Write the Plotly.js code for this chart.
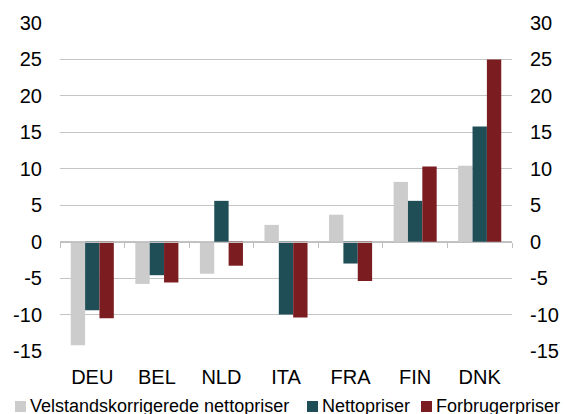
<!DOCTYPE html>
<html>
<head>
<meta charset="utf-8">
<script src="https://cdn.plot.ly/plotly-3.0.1.min.js"></script>
<style>html,body{margin:0;padding:0;background:#fff;}#chart{width:564px;height:414px;}</style>
</head>
<body>
<div id="chart"></div>
<script>
var categories = ["DEU", "BEL", "NLD", "ITA", "FRA", "FIN", "DNK"];
var seriesNames = ["Velstandskorrigerede nettopriser", "Nettopriser", "Forbrugerpriser"];
var velstandskorrigerede = [-14.2, -5.8, -4.4, 2.3, 3.7, 8.2, 10.4];
var nettopriser = [-9.4, -4.6, 5.6, -10.0, -3.0, 5.6, 15.8];
var forbrugerpriser = [-10.5, -5.6, -3.3, -10.4, -5.4, 10.3, 25.0];
var yTickVals = [-15, -10, -5, 0, 5, 10, 15, 20, 25, 30];
var yTickText = ["-15", "-10", "-5", "0", "5", "10", "15", "20", "25", "30"];

var colors = ["#cccccc", "#1f4e56", "#7b1d20"];
var font = "Liberation Sans, Arial, sans-serif";
var W = 564, H = 414;
var M = {l: 60, r: 52, t: 23, b: 63};
var pw = W - M.l - M.r, ph = H - M.t - M.b;
function px2x(px) { return (px - M.l) / pw; }
function px2y(py) { return (H - M.b - py) / ph; }

var values = [velstandskorrigerede, nettopriser, forbrugerpriser];
var traces = values.map(function (v, i) {
  return {
    type: "bar", x: categories, y: v, name: seriesNames[i],
    marker: {color: colors[i], line: {width: 0}},
    showlegend: false, hoverinfo: "x+y+name"
  };
});
traces.push({type: "scatter", x: [], y: [], yaxis: "y2", showlegend: false, hoverinfo: "skip"});
traces.push({type: "scatter", x: [], y: [], xaxis: "x2", showlegend: false, hoverinfo: "skip"});

var boundaries = [];
for (var k = 0; k <= categories.length; k++) boundaries.push(k - 0.5);

var legendSquareX = [15, 307, 421];
var legendTextX = [28, 320, 434];
var shapes = [], annotations = [];
for (var i = 0; i < seriesNames.length; i++) {
  shapes.push({
    type: "rect", xref: "paper", yref: "paper",
    xsizemode: "pixel", ysizemode: "pixel",
    xanchor: px2x(legendSquareX[i]), yanchor: px2y(412),
    x0: 0, x1: 11, y0: 0, y1: 11,
    fillcolor: colors[i], line: {width: 0}
  });
  annotations.push({
    xref: "paper", yref: "paper", x: px2x(legendTextX[i]), y: px2y(406),
    xanchor: "left", yanchor: "middle", showarrow: false,
    text: seriesNames[i], font: {family: font, size: 18, color: "#000"}
  });
}

var yAxisCommon = {
  range: [-15, 30], tickmode: "array", tickvals: yTickVals, ticktext: yTickText,
  zeroline: false, ticks: "", tickfont: {family: font, size: 20, color: "#000"},
  fixedrange: true
};

var layout = {
  width: W, height: H, margin: M,
  paper_bgcolor: "#fff", plot_bgcolor: "#fff",
  font: {family: font, size: 20, color: "#000"},
  barmode: "group", bargap: 0.333, bargroupgap: 0,
  showlegend: false,
  xaxis: {
    type: "category", categoryorder: "array", categoryarray: categories,
    showgrid: false, zeroline: false, showline: false, ticks: "",
    tickfont: {family: font, size: 20, color: "#000"}, ticklabelstandoff: 12,
    fixedrange: true
  },
  xaxis2: {
    overlaying: "x", anchor: "free", position: 15 / 45, type: "linear",
    range: [-0.5, categories.length - 0.5], tickmode: "array", tickvals: boundaries,
    ticks: "outside", ticklen: 5, tickcolor: "#bfbfbf", tickwidth: 1,
    showticklabels: false, showline: true, linecolor: "#bfbfbf", linewidth: 1,
    showgrid: false, zeroline: false, fixedrange: true
  },
  yaxis: Object.assign({}, yAxisCommon, {
    side: "left", showgrid: true, gridcolor: "#c4c4c4", gridwidth: 1,
    ticklabelstandoff: 17
  }),
  yaxis2: Object.assign({}, yAxisCommon, {
    side: "right", overlaying: "y", anchor: "x", showgrid: false,
    ticklabelstandoff: 17
  }),
  shapes: shapes,
  annotations: annotations
};

Plotly.newPlot("chart", traces, layout, {displayModeBar: false, staticPlot: true});
</script>
</body>
</html>
